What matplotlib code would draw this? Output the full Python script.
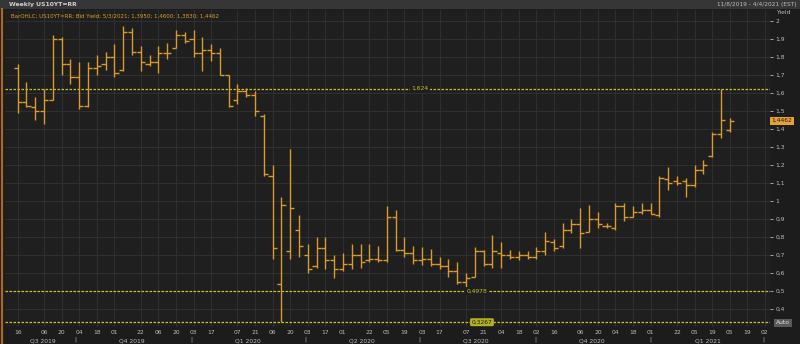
import matplotlib
matplotlib.use("Agg")
import matplotlib.pyplot as plt
import matplotlib.dates as mdates
import numpy as np
import pandas as pd

# ---------------- data ----------------
first_week = "2019-08-16"   # weekly bars, dated on Friday
opens = [1.74, 1.55, 1.52, 1.50, 1.56, 1.90, 1.76, 1.69, 1.53, 1.74,
         1.76, 1.80, 1.73, 1.94, 1.83, 1.76, 1.77, 1.82, 1.85, 1.92,
         1.90, 1.82, 1.84, 1.82, 1.70, 1.56, 1.61, 1.59, 1.47, 1.14,
         0.54, 0.72, 0.84, 0.70, 0.64, 0.74, 0.67, 0.62, 0.65, 0.70,
         0.67, 0.68, 0.67, 0.91, 0.73, 0.71, 0.67, 0.68, 0.65, 0.64,
         0.61, 0.55, 0.58, 0.72, 0.65, 0.71, 0.70, 0.69, 0.70, 0.69,
         0.72, 0.77, 0.75, 0.84, 0.87, 0.83, 0.90, 0.86, 0.85, 0.97,
         0.91, 0.94, 0.95, 0.92, 1.12, 1.11, 1.11, 1.09, 1.17, 1.25,
         1.37, 1.395]
highs = [1.76, 1.66, 1.58, 1.62, 1.92, 1.91, 1.79, 1.77, 1.77, 1.81,
         1.83, 1.87, 1.97, 1.96, 1.86, 1.81, 1.86, 1.88, 1.95, 1.94,
         1.95, 1.91, 1.87, 1.85, 1.70, 1.65, 1.63, 1.61, 1.485, 1.20,
         1.02, 1.29, 0.92, 0.76, 0.80, 0.80, 0.70, 0.71, 0.76, 0.76,
         0.76, 0.75, 0.97, 0.95, 0.80, 0.75, 0.745, 0.735, 0.69, 0.68,
         0.66, 0.60, 0.745, 0.73, 0.81, 0.77, 0.73, 0.72, 0.72, 0.745,
         0.83, 0.79, 0.88, 0.90, 0.96, 0.98, 0.94, 0.88, 0.99, 0.99,
         0.975, 0.99, 0.99, 1.14, 1.19, 1.14, 1.13, 1.20, 1.23, 1.385,
         1.624, 1.46]
lows = [1.49, 1.52, 1.45, 1.43, 1.56, 1.70, 1.65, 1.51, 1.52, 1.70,
        1.73, 1.69, 1.72, 1.81, 1.72, 1.75, 1.71, 1.79, 1.85, 1.88,
        1.80, 1.72, 1.78, 1.70, 1.52, 1.54, 1.58, 1.47, 1.14, 0.68,
        0.3267, 0.68, 0.69, 0.60, 0.63, 0.62, 0.57, 0.61, 0.62, 0.63,
        0.66, 0.66, 0.66, 0.72, 0.69, 0.65, 0.645, 0.64, 0.625, 0.58,
        0.54, 0.51, 0.58, 0.64, 0.63, 0.63, 0.68, 0.67, 0.68, 0.68,
        0.70, 0.72, 0.74, 0.82, 0.74, 0.83, 0.85, 0.85, 0.84, 0.89,
        0.91, 0.93, 0.93, 0.91, 1.06, 1.09, 1.02, 1.08, 1.15, 1.245,
        1.35, 1.383]
closes = [1.55, 1.53, 1.50, 1.56, 1.90, 1.76, 1.69, 1.53, 1.74, 1.75,
          1.80, 1.71, 1.94, 1.83, 1.77, 1.77, 1.82, 1.82, 1.92, 1.89,
          1.82, 1.84, 1.82, 1.70, 1.53, 1.61, 1.59, 1.50, 1.15, 0.74,
          0.98, 0.96, 0.75, 0.62, 0.74, 0.67, 0.62, 0.65, 0.70, 0.66,
          0.68, 0.67, 0.91, 0.73, 0.71, 0.67, 0.68, 0.65, 0.64, 0.61,
          0.55, 0.57, 0.72, 0.65, 0.72, 0.70, 0.69, 0.70, 0.69, 0.72,
          0.78, 0.74, 0.84, 0.87, 0.82, 0.90, 0.87, 0.86, 0.97, 0.91,
          0.94, 0.95, 0.93, 1.13, 1.10, 1.10, 1.09, 1.17, 1.20, 1.37,
          1.45, 1.4462]

tick_dates = ["2019-08-16", "2019-09-06", "2019-09-20", "2019-10-04", "2019-10-18",
              "2019-11-01", "2019-11-22", "2019-12-06", "2019-12-20", "2020-01-03",
              "2020-01-17", "2020-02-07", "2020-02-21", "2020-03-06", "2020-03-20",
              "2020-04-03", "2020-04-17", "2020-05-01", "2020-05-22", "2020-06-05",
              "2020-06-19", "2020-07-03", "2020-07-17", "2020-08-07", "2020-08-21",
              "2020-09-04", "2020-09-18", "2020-10-02", "2020-10-16", "2020-11-06",
              "2020-11-20", "2020-12-04", "2020-12-18", "2021-01-01", "2021-01-22",
              "2021-02-05", "2021-02-19", "2021-03-05", "2021-03-19", "2021-04-02"]
quarter_labels = ["Q3 2019", "Q4 2019", "Q1 2020", "Q2 2020", "Q3 2020", "Q4 2020", "Q1 2021"]
quarter_centers = ["2019-09-05", "2019-11-15", "2020-02-15", "2020-05-16",
                   "2020-08-15", "2020-11-15", "2021-02-16"]
quarter_starts = ["2019-10-01", "2020-01-01", "2020-04-01", "2020-07-01",
                  "2020-10-01", "2021-01-01", "2021-04-01"]
level_values = [1.624, 0.4978, 0.3267]
level_labels = ["1,624", "0,4978", "0,3267"]
last_value = 1.4462
y_ticks = [0.4, 0.5, 0.6, 0.7, 0.8, 0.9, 1.0, 1.1, 1.2, 1.3, 1.4,
           1.5, 1.6, 1.7, 1.8, 1.9, 2.0]

# ---------------- style ----------------
BG = "#1c1c1c"
AXBG = "#1f1f1f"
GRID = "#2f2f2f"
BAR = "#dc9a2c"
LEVEL = "#c8c426"
TXT = "#bdbdbd"

W, H = 800, 344
fig = plt.figure(figsize=(W / 100, H / 100), dpi=100, facecolor=BG)

def fx(px):
    return px / W

def fy(py):
    return 1 - py / H

ax_l, ax_r, ax_t, ax_b = 5, 770, 10, 327
ax = fig.add_axes([fx(ax_l), fy(ax_b), fx(ax_r - ax_l), (ax_b - ax_t) / H])
ax.set_facecolor(AXBG)
for s in ax.spines.values():
    s.set_visible(False)

weeks = pd.date_range(first_week, periods=len(opens), freq="7D")
xs = mdates.date2num(weeks.to_pydatetime())
half = 3.3  # days

ax.vlines(xs, lows, highs, color=BAR, lw=1.0, zorder=3)
ax.hlines(opens, xs - half, xs, color=BAR, lw=1.0, zorder=3)
ax.hlines(closes, xs, xs + half, color=BAR, lw=1.0, zorder=3)

# axis limits (pixel-calibrated: 8.79 px per week, 180 px per 1.0, 1.0 at y=201)
x0 = mdates.date2num(pd.Timestamp(first_week).to_pydatetime())
px_per_day = 8.79 / 7
ax.set_xlim(x0 - (17.7 - ax_l) / px_per_day, x0 + (ax_r - 17.7) / px_per_day)
ax.set_ylim(1 - (ax_b - 201) / 180, 1 + (201 - ax_t) / 180)

# x ticks
tnums = mdates.date2num([pd.Timestamp(d).to_pydatetime() for d in tick_dates])
ax.set_xticks(tnums)
ax.set_xticklabels([pd.Timestamp(d).strftime("%d") for d in tick_dates])
ax.tick_params(axis="x", length=0, pad=2.5, labelsize=4.3, colors=TXT)

# y ticks on right
ax.yaxis.tick_right()
ax.set_yticks(y_ticks)
ax.set_yticklabels([("%g" % v).replace(".", ",") for v in y_ticks])
ax.tick_params(axis="y", direction="out", length=2.5, width=0.6, pad=1.5,
               labelsize=4.3, colors=TXT)

ax.grid(True, color=GRID, lw=0.8)
ax.set_axisbelow(True)

# horizontal levels
ytr = ax.get_yaxis_transform()
label_x = [0.5425, 0.617, 0.6235]
for i, (v, lab) in enumerate(zip(level_values, level_labels)):
    ax.axhline(v, color=LEVEL, lw=0.9, ls=(0, (2, 1.2)), zorder=2)
    if i < 2:
        ax.text(label_x[i], v, lab, transform=ytr, ha="center", va="center",
                fontsize=4.3, color=LEVEL, zorder=4,
                bbox=dict(boxstyle="square,pad=0.25", fc=AXBG, ec="none"))
    else:
        ax.text(label_x[i], v, lab, transform=ytr, ha="center", va="center",
                fontsize=4.3, color="#1c1c1c", zorder=4,
                bbox=dict(boxstyle="round,pad=0.25", fc="#b3ae22", ec="none"))

# last value tag
ax.text(1.002, last_value, ("%.4f" % last_value).replace(".", ","), transform=ytr,
        ha="left", va="center", fontsize=4.3, color="#1a1a1a", clip_on=False,
        bbox=dict(boxstyle="square,pad=0.25", fc="#e8a032", ec="none"))

# quarter labels and separators
xtr = ax.get_xaxis_transform()
for lab, c in zip(quarter_labels, quarter_centers):
    ax.text(mdates.date2num(pd.Timestamp(c).to_pydatetime()), -(341 - ax_b) / (ax_b - ax_t),
            lab, transform=xtr, ha="center", va="center", fontsize=4.3, color=TXT,
            clip_on=False)
for q in quarter_starts:
    ax.text(mdates.date2num(pd.Timestamp(q).to_pydatetime()), -(339 - ax_b) / (ax_b - ax_t),
            "|", transform=xtr, ha="center", va="center", fontsize=4, color=TXT,
            clip_on=False)

# header bar
fig.patches.append(plt.Rectangle((0, fy(9)), 1, 9 / H, transform=fig.transFigure,
                                 fc="#363636", ec="none", zorder=0))
fig.text(fx(9), fy(4.5), "Weekly US10YT=RR", fontsize=4.4, color="#d0d0d0",
         ha="left", va="center", weight="bold")
fig.text(fx(797), fy(4.5), "11/8/2019 - 4/4/2021 (EST)", fontsize=4.2, color=TXT,
         ha="right", va="center")
fig.text(fx(11), fy(16), "BarOHLC; US10YT=RR; Bid Yield; 5/3/2021; 1,3950; 1,4600; 1,3830; 1,4462",
         fontsize=4.0, color="#e09a2c", ha="left", va="center")
fig.text(fx(776), fy(13), "Yield", fontsize=4.3, color=TXT, ha="left", va="center")
fig.text(fx(783), fy(323), "Auto", fontsize=4.3, color="#e0e0e0", ha="center", va="center",
         bbox=dict(boxstyle="square,pad=0.3", fc="#5a5a5a", ec="none"))

# left orange edge
fig.add_artist(plt.Line2D([fx(1.5), fx(1.5)], [0, fy(9)], transform=fig.transFigure,
                          color="#a86a22", lw=1.6))

fig.savefig("out.png", dpi=100, facecolor=BG)
